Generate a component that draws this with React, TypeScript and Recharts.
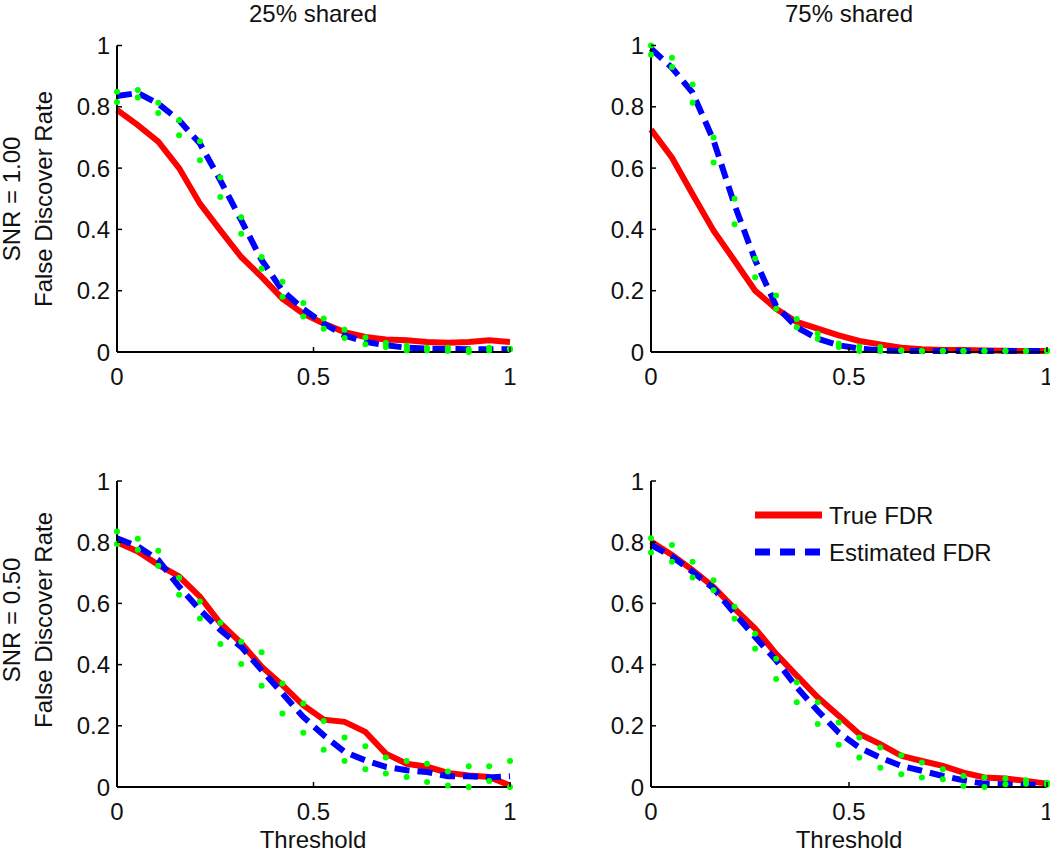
import { Legend, Line, LineChart, XAxis, YAxis } from "recharts";

const thresholds = [
  0, 0.053, 0.105, 0.158, 0.211, 0.263, 0.316, 0.368, 0.421, 0.474, 0.526, 0.579, 0.632, 0.684,
  0.737, 0.789, 0.842, 0.895, 0.947, 1,
];

const xTicks = [0, 0.5, 1];
const yTicks = [0, 0.2, 0.4, 0.6, 0.8, 1];

const columnTitles = ["25% shared", "75% shared"];
const rowLabels = ["SNR = 1.00", "SNR = 0.50"];
const yLabel = "False Discover Rate";
const xLabel = "Threshold";
const seriesNames = ["True FDR", "Estimated FDR"];

// SNR = 1.00, 25% shared
const p1True = [0.79, 0.74, 0.686, 0.6, 0.484, 0.397, 0.31, 0.245, 0.174, 0.125, 0.093, 0.065, 0.049, 0.041, 0.038, 0.033, 0.03, 0.033, 0.038, 0.033];
const p1Est = [0.835, 0.845, 0.81, 0.756, 0.68, 0.56, 0.43, 0.3, 0.2, 0.14, 0.093, 0.054, 0.033, 0.022, 0.014, 0.011, 0.01, 0.009, 0.009, 0.009];
const p1Hi = [0.849, 0.855, 0.813, 0.756, 0.688, 0.569, 0.44, 0.31, 0.229, 0.16, 0.109, 0.073, 0.047, 0.029, 0.02, 0.014, 0.014, 0.008, 0.014, 0.011];
const p1Lo = [0.816, 0.83, 0.78, 0.707, 0.626, 0.506, 0.386, 0.272, 0.18, 0.116, 0.076, 0.046, 0.025, 0.016, 0.005, 0.005, 0.003, 0, 0.005, 0.008];

// SNR = 1.00, 75% shared
const p2True = [0.726, 0.634, 0.515, 0.396, 0.298, 0.2, 0.141, 0.098, 0.076, 0.054, 0.036, 0.025, 0.014, 0.009, 0.0065, 0.0065, 0.005, 0.004, 0.003, 0.003];
const p2Est = [0.99, 0.927, 0.846, 0.69, 0.48, 0.3, 0.15, 0.081, 0.043, 0.022, 0.011, 0.005, 0.003, 0.003, 0.003, 0.003, 0.003, 0.003, 0.003, 0.003];
const p2Hi = [1.0, 0.96, 0.873, 0.7, 0.5, 0.304, 0.184, 0.108, 0.06, 0.027, 0.018, 0.016, 0.005, 0.003, 0.003, 0.003, 0.003, 0.003, 0.003, 0.003];
const p2Lo = [0.97, 0.93, 0.813, 0.618, 0.417, 0.244, 0.141, 0.081, 0.043, 0.016, 0.003, 0.003, 0.005, 0.003, 0.003, 0.003, 0.003, 0.003, 0.003, 0.003];

// SNR = 0.50, 25% shared
const p3True = [0.8, 0.77, 0.726, 0.688, 0.622, 0.535, 0.47, 0.393, 0.333, 0.267, 0.22, 0.213, 0.18, 0.109, 0.076, 0.066, 0.046, 0.038, 0.033, 0.005];
const p3Est = [0.813, 0.786, 0.742, 0.655, 0.579, 0.513, 0.458, 0.382, 0.306, 0.229, 0.169, 0.115, 0.087, 0.066, 0.055, 0.049, 0.035, 0.035, 0.031, 0.035];
const p3Hi = [0.835, 0.811, 0.772, 0.684, 0.606, 0.537, 0.475, 0.44, 0.338, 0.273, 0.216, 0.162, 0.133, 0.096, 0.085, 0.076, 0.051, 0.068, 0.068, 0.085];
const p3Lo = [0.794, 0.775, 0.723, 0.628, 0.551, 0.467, 0.402, 0.331, 0.24, 0.177, 0.122, 0.085, 0.058, 0.044, 0.033, 0.016, 0.005, 0, 0.02, 0];

// SNR = 0.50, 75% shared
const p4True = [0.802, 0.758, 0.709, 0.654, 0.583, 0.518, 0.435, 0.364, 0.293, 0.233, 0.173, 0.14, 0.102, 0.085, 0.069, 0.047, 0.031, 0.028, 0.02, 0.011];
const p4Est = [0.791, 0.753, 0.703, 0.649, 0.567, 0.49, 0.414, 0.326, 0.249, 0.178, 0.129, 0.096, 0.069, 0.053, 0.036, 0.022, 0.011, 0.009, 0.007, 0.007];
const p4Hi = [0.813, 0.791, 0.736, 0.676, 0.589, 0.501, 0.419, 0.342, 0.277, 0.211, 0.162, 0.129, 0.104, 0.08, 0.058, 0.036, 0.031, 0.028, 0.022, 0.014];
const p4Lo = [0.766, 0.736, 0.685, 0.643, 0.55, 0.452, 0.353, 0.277, 0.206, 0.138, 0.096, 0.063, 0.042, 0.031, 0.025, 0.003, 0, 0.009, 0.011, 0.007];

const FONT = "'Liberation Sans', Arial, Helvetica, sans-serif";
const RED = "#ff0000";
const BLUE = "#0000ff";
const GREEN = "#00ff00";

function buildRows(tru: number[], est: number[], hi: number[], lo: number[]) {
  return thresholds.map((t, i) => ({ t, tru: tru[i], est: est[i], hi: hi[i], lo: lo[i] }));
}

function XTick(props: any) {
  const { x, y, payload } = props;
  return (
    <g>
      <line x1={x} y1={y} x2={x} y2={y - 5} stroke="#000" strokeWidth={1.5} />
      <text x={x} y={y + 33} textAnchor="middle" fontSize={24} fontFamily={FONT} fill="#111">
        {String(payload.value)}
      </text>
    </g>
  );
}

function YTick(props: any) {
  const { x, y, payload } = props;
  return (
    <g>
      <line x1={x} y1={y} x2={x + 5} y2={y} stroke="#000" strokeWidth={1.5} />
      <text x={x - 7} y={y} dy="0.36em" textAnchor="end" fontSize={24} fontFamily={FONT} fill="#111">
        {String(payload.value)}
      </text>
    </g>
  );
}

function FdrLegend() {
  return (
    <svg width={280} height={80} style={{ display: "block" }}>
      <line x1={5} y1={20} x2={72} y2={20} stroke={RED} strokeWidth={7} />
      <text x={79} y={20} dy="0.36em" fontSize={24} fontFamily={FONT} fill="#111">
        {seriesNames[0]}
      </text>
      <line x1={5} y1={57} x2={72} y2={57} stroke={BLUE} strokeWidth={7} strokeDasharray="15 10" />
      <text x={79} y={57} dy="0.36em" fontSize={24} fontFamily={FONT} fill="#111">
        {seriesNames[1]}
      </text>
    </svg>
  );
}

type PanelProps = {
  rows: ReturnType<typeof buildRows>;
  left: number;
  top: number;
  width: number;
  yAxisWidth: number;
  marginTop: number;
  marginRight: number;
  marginBottom: number;
  legend?: boolean;
};

function Panel({ rows, left, top, width, yAxisWidth, marginTop, marginRight, marginBottom, legend }: PanelProps) {
  return (
    <div style={{ position: "absolute", left, top }}>
      <LineChart
        width={width}
        height={420}
        data={rows}
        margin={{ top: marginTop, right: marginRight, bottom: marginBottom, left: 0 }}
      >
        <XAxis
          dataKey="t"
          type="number"
          domain={[0, 1]}
          ticks={xTicks}
          interval={0}
          height={40}
          tickSize={0}
          tickMargin={0}
          tick={<XTick />}
          axisLine={{ stroke: "#000", strokeWidth: 2 }}
        />
        <YAxis
          type="number"
          domain={[0, 1]}
          ticks={yTicks}
          interval={0}
          width={yAxisWidth}
          tickSize={0}
          tickMargin={0}
          tick={<YTick />}
          axisLine={{ stroke: "#000", strokeWidth: 2 }}
        />
        {legend && (
          <Legend
            verticalAlign="middle"
            align="center"
            layout="horizontal"
            content={() => <FdrLegend />}
            wrapperStyle={{ left: 210, top: 65, width: 280, height: 80 }}
          />
        )}
        <Line type="linear" dataKey="tru" stroke={RED} strokeWidth={6} dot={false} isAnimationActive={false} />
        <Line
          type="linear"
          dataKey="est"
          stroke={BLUE}
          strokeWidth={6}
          strokeDasharray="15 8"
          dot={false}
          isAnimationActive={false}
        />
        <Line
          type="linear"
          dataKey="hi"
          stroke="none"
          dot={{ r: 3, fill: GREEN, stroke: "none" }}
          isAnimationActive={false}
        />
        <Line
          type="linear"
          dataKey="lo"
          stroke="none"
          dot={{ r: 3, fill: GREEN, stroke: "none" }}
          isAnimationActive={false}
        />
      </LineChart>
    </div>
  );
}

export default function App() {
  const textStyle = { fontSize: 24, fontFamily: FONT, fill: "#111" };
  return (
    <div style={{ position: "absolute", left: 0, top: 0, width: 1050, height: 853, background: "#fff", overflow: "hidden" }}>
      <Panel rows={buildRows(p1True, p1Est, p1Hi, p1Lo)} left={0} top={0} width={540} yAxisWidth={117} marginTop={45.5} marginRight={30} marginBottom={28} />
      <Panel rows={buildRows(p2True, p2Est, p2Hi, p2Lo)} left={540} top={0} width={510} yAxisWidth={111} marginTop={45.5} marginRight={3} marginBottom={28} />
      <Panel rows={buildRows(p3True, p3Est, p3Hi, p3Lo)} left={0} top={430} width={540} yAxisWidth={117} marginTop={51} marginRight={30} marginBottom={23} />
      <Panel rows={buildRows(p4True, p4Est, p4Hi, p4Lo)} left={540} top={430} width={510} yAxisWidth={111} marginTop={51} marginRight={3} marginBottom={23} legend />
      <svg width={1050} height={853} style={{ position: "absolute", left: 0, top: 0, pointerEvents: "none" }}>
        <text x={313} y={22} textAnchor="middle" {...textStyle}>{columnTitles[0]}</text>
        <text x={849} y={22} textAnchor="middle" {...textStyle}>{columnTitles[1]}</text>
        <text x={313} y={848} textAnchor="middle" {...textStyle}>{xLabel}</text>
        <text x={849} y={848} textAnchor="middle" {...textStyle}>{xLabel}</text>
        <text transform="translate(20,199) rotate(-90)" textAnchor="middle" {...textStyle}>{rowLabels[0]}</text>
        <text transform="translate(52,199) rotate(-90)" textAnchor="middle" {...textStyle}>{yLabel}</text>
        <text transform="translate(20,620) rotate(-90)" textAnchor="middle" {...textStyle}>{rowLabels[1]}</text>
        <text transform="translate(52,620) rotate(-90)" textAnchor="middle" {...textStyle}>{yLabel}</text>
      </svg>
    </div>
  );
}
